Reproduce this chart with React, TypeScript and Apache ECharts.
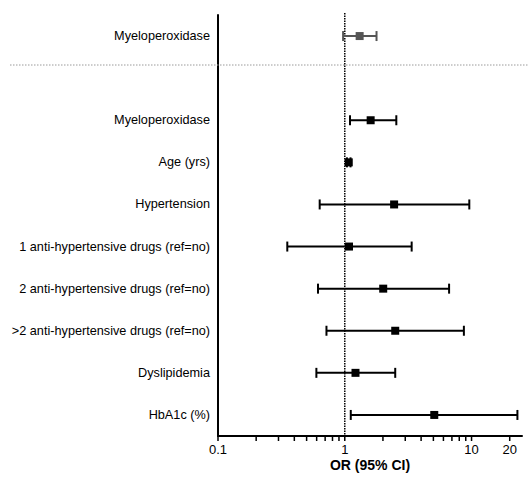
import React, { useEffect, useRef } from "react";
import * as echarts from "echarts";

// Rows, top to bottom ('' is the empty gap row)
const categories = [
  "Myeloperoxidase",
  "",
  "Myeloperoxidase",
  "Age (yrs)",
  "Hypertension",
  "1 anti-hypertensive drugs (ref=no)",
  "2 anti-hypertensive drugs (ref=no)",
  ">2 anti-hypertensive drugs (ref=no)",
  "Dyslipidemia",
  "HbA1c (%)",
];
// Row index of each estimate
const rowIndex = [0, 2, 3, 4, 5, 6, 7, 8, 9];
const oddsRatio = [1.31, 1.6, 1.075, 2.45, 1.08, 2.01, 2.5, 1.215, 5.08];
const lowerCI = [0.97, 1.1, 1.04, 0.634, 0.352, 0.615, 0.717, 0.597, 1.115];
const upperCI = [1.78, 2.55, 1.11, 9.6, 3.37, 6.65, 8.7, 2.5, 23.0];
const greyRow = [1, 0, 0, 0, 0, 0, 0, 0, 0];

const tickValues = [
  0.1, 0.2, 0.3, 0.4, 0.5, 0.6, 0.7, 0.8, 0.9, 1, 2, 3, 4, 5, 6, 7, 8, 9, 10, 20,
];
const labelValues = [0.1, 1, 10, 20];
const tickLabels = ["0.1", "1", "10", "20"];
const referenceValue = 1;

const FONT = "'Liberation Sans', Arial, Helvetica, sans-serif";

export default function App() {
  const ref = useRef<HTMLDivElement>(null);
  useEffect(() => {
    if (!ref.current) return;
    document.body.style.margin = "0";
    const chart = echarts.init(ref.current, undefined, { renderer: "svg" });
    const ciData = rowIndex.map((r, i) => [
      lowerCI[i],
      upperCI[i],
      oddsRatio[i],
      r,
      greyRow[i],
    ]);
    const option: any = {
      animation: false,
      grid: { left: 218, right: 7, top: 15, bottom: 38, containLabel: false },
      xAxis: {
        type: "log",
        logBase: 10,
        min: 0.1,
        max: 25,
        name: "OR (95% CI)",
        nameLocation: "middle",
        nameGap: 22,
        nameTextStyle: {
          fontFamily: FONT,
          fontSize: 14,
          fontWeight: "bold",
          color: "#000",
          verticalAlign: "top",
        },
        axisLine: { show: true, lineStyle: { color: "#000", width: 2 } },
        axisTick: { show: false },
        axisLabel: { show: false },
        splitLine: { show: false },
        minorTick: { show: false },
      },
      yAxis: {
        type: "category",
        inverse: true,
        data: categories,
        axisLine: { show: true, lineStyle: { color: "#000", width: 2 } },
        axisTick: { show: false },
        axisLabel: {
          margin: 8,
          fontFamily: FONT,
          fontSize: 12.7,
          color: "#000",
          interval: 0,
        },
        splitLine: { show: false },
      },
      graphic: [
        {
          type: "line",
          shape: { x1: 10, y1: 65, x2: 529, y2: 65 },
          style: { stroke: "#9a9a9a", lineWidth: 1, lineDash: [1.5, 1.5] },
          z: 1,
        },
      ],
      series: [
        {
          type: "custom",
          name: "reference",
          coordinateSystem: "cartesian2d",
          dimensions: [
            { name: "x", type: "float" },
            { name: "y", type: "int" },
          ],
          encode: { x: 0, y: 1 },
          data: [[referenceValue, 0]],
          silent: true,
          z: 3,
          renderItem: (params: any, api: any) => {
            const x = api.coord([api.value(0), 0])[0];
            const cs = params.coordSys;
            return {
              type: "line",
              shape: { x1: x, y1: cs.y - 2, x2: x, y2: cs.y + cs.height },
              style: { stroke: "#000", lineWidth: 1.5, lineDash: [1.5, 1] },
            };
          },
        },
        {
          type: "custom",
          name: "CI",
          coordinateSystem: "cartesian2d",
          dimensions: [
            { name: "lo", type: "float" },
            { name: "hi", type: "float" },
            { name: "est", type: "float" },
            { name: "row", type: "int" },
            { name: "grey", type: "int" },
          ],
          encode: { x: [0, 1, 2], y: 3 },
          data: ciData,
          z: 5,
          renderItem: (params: any, api: any) => {
            const y = api.value(3);
            const lo = api.coord([api.value(0), y]);
            const hi = api.coord([api.value(1), y]);
            const mid = api.coord([api.value(2), y]);
            const color = api.value(4) === 1 ? "#555555" : "#000000";
            const cap = 5;
            const s = 4;
            const st = { stroke: color, lineWidth: 2 };
            return {
              type: "group",
              children: [
                { type: "line", shape: { x1: lo[0], y1: lo[1], x2: hi[0], y2: hi[1] }, style: st },
                { type: "line", shape: { x1: lo[0], y1: lo[1] - cap, x2: lo[0], y2: lo[1] + cap }, style: st },
                { type: "line", shape: { x1: hi[0], y1: hi[1] - cap, x2: hi[0], y2: hi[1] + cap }, style: st },
                {
                  type: "rect",
                  shape: { x: mid[0] - s, y: mid[1] - s, width: 2 * s, height: 2 * s },
                  style: { fill: color },
                },
              ],
            };
          },
        },
        {
          type: "custom",
          name: "ticks",
          coordinateSystem: "cartesian2d",
          dimensions: [
            { name: "x", type: "float" },
            { name: "y", type: "int" },
          ],
          encode: { x: 0, y: 1 },
          data: tickValues.map((v) => [v, 0]),
          silent: true,
          renderItem: (params: any, api: any) => {
            const x = api.coord([api.value(0), 0])[0];
            const bottom = params.coordSys.y + params.coordSys.height;
            return {
              type: "line",
              shape: { x1: x, y1: bottom, x2: x, y2: bottom + 5 },
              style: { stroke: "#000", lineWidth: 1.5 },
            };
          },
        },
        {
          type: "custom",
          name: "tickLabels",
          coordinateSystem: "cartesian2d",
          dimensions: [
            { name: "x", type: "float" },
            { name: "y", type: "int" },
          ],
          encode: { x: 0, y: 1 },
          data: labelValues.map((v) => [v, 0]),
          silent: true,
          renderItem: (params: any, api: any) => {
            const x = api.coord([api.value(0), 0])[0];
            const bottom = params.coordSys.y + params.coordSys.height;
            return {
              type: "text",
              style: {
                x: x,
                y: bottom + 7,
                text: tickLabels[params.dataIndex],
                textAlign: "center",
                textVerticalAlign: "top",
                fontFamily: FONT,
                fontSize: 13,
                fill: "#000",
              },
            };
          },
        },
      ],
    };
    chart.setOption(option);
    return () => chart.dispose();
  }, []);
  return <div ref={ref} style={{ width: 529, height: 477 }} />;
}
